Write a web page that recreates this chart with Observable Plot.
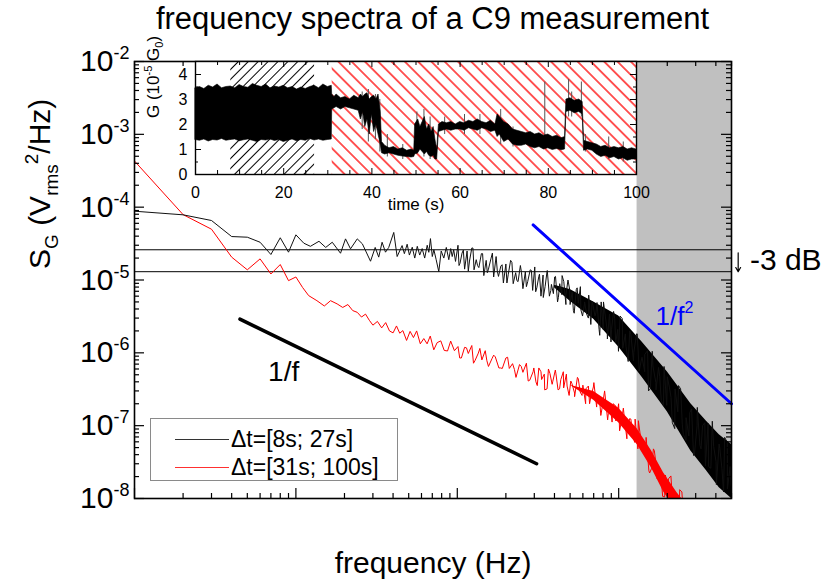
<!DOCTYPE html>
<html>
<head>
<meta charset="utf-8">
<script src="https://cdn.jsdelivr.net/npm/d3@7"></script>
<script src="https://cdn.jsdelivr.net/npm/@observablehq/plot@0.6"></script>
<style>
  body { margin: 0; background: #fff; }
  #wrap { position: relative; width: 826px; height: 588px; overflow: hidden; font-family: "Liberation Sans", Arial, Helvetica, sans-serif; color: #000; }
  #title { position: absolute; left: 134px; width: 597px; top: 0; height: 38px; line-height: 38px; text-align: center; font-size: 31px; white-space: nowrap; }
  #main { position: absolute; left: 0; top: 40px; }
  #inset { position: absolute; left: 140px; top: 56px; }
  #legend { position: absolute; left: 150px; top: 418px; width: 248px; height: 63px; box-sizing: border-box; border: 1px solid #8a8a8a; background: #fff; }
  #legend .sw { position: absolute; left: 24px; width: 54px; height: 0; }
  #legend .lt { position: absolute; left: 80px; font-size: 23px; line-height: 28px; height: 28px; white-space: nowrap; }
</style>
</head>
<body>
<div id="wrap">
  <div id="title">frequency spectra of a C9 measurement</div>
  <div id="main"></div>
  <div id="inset"></div>
  <div id="legend"></div>
</div>
<script>
// ---------------- data ----------------
const xDomain = [1, 5000];
const yDomain = [1e-8, 1e-2];
const xMajor = [1, 10, 100, 1000];
const xTickLabels = ["1", "10", "100", "1000"];
const yMajor = [1e-8, 1e-7, 1e-6, 1e-5, 1e-4, 1e-3, 1e-2];
const yTickExp = ["-8", "-7", "-6", "-5", "-4", "-3", "-2"];

// spectrum, window dt = [8s; 27s] (black)
const blackFreq = [1,2,3,4,5,6,7,8,9,10,11.2,12.3,13.9,15.3,16.8,18.9,20.3,21.8,24,25.8,29,31,32.6,34.2,35.9,37.6,40.4,42.4,45.5,47,48.9,50.5,52.6,54.5,56.5,58.5,60.6,62.8,65.1,66.6,68.2,70,71.6,74,76.8,79.5,82.5,85.5,88.6,91,93,95,97.5,
  101,104,107,111,115,119,123,127,131,136,141,146,151,156,162,168,174,180,186,193,200,207,214,222,230,238,246,255,264,273,283,293,
  302,311,320,330,340,350,361,372,383,394,406,418,431,444,457,471,485,500,515,530,546,562,579,597,615,633,652,672,692,713,734,756,779,802,826,851,877,903,930,958,987,
  1020,1060,1100,1145,1190,1240,1290,1340,1395,1450,1510,1570,1630,1700,1765,1835,1910,1985,2065,2150,2235,2325,2420,2515,2615,2720,2830,2945,3060,3185,3310,3445,3580,3725,3875,4030,4190,4360,4535,4715,4905,5000];
const blackS = [8.8e-5,7.85e-5,6.56e-5,3.95e-5,3.87e-5,3.3e-5,2.24e-5,3.8e-5,2.41e-5,4.17e-5,3.2e-5,2.9e-5,3.4e-5,2.8e-5,3.3e-5,2.33e-5,3.67e-5,2.68e-5,3.67e-5,3.14e-5,1.81e-5,2.8e-5,2.06e-5,3.3e-5,2.41e-5,2.8e-5,4.5e-5,2.1e-5,2.97e-5,2.3e-5,3.1e-5,2.2e-5,2.82e-5,2.0e-5,2.9e-5,2.2e-5,2.7e-5,2.0e-5,3.0e-5,2.4e-5,3.7e-5,2.1e-5,2.6e-5,1.9e-5,1.3e-5,2.5e-5,2.0e-5,2.8e-5,1.9e-5,2.7e-5,2.1e-5,2.6e-5,1.8e-5,
  3.0e-5,1.7e-5,2.34e-5,1.41e-5,2.5e-5,1.82e-5,2.75e-5,1.38e-5,1.9e-5,1.48e-5,2.3e-5,1.15e-5,1.86e-5,1.41e-5,2.0e-5,1.1e-5,2.1e-5,1.12e-5,1.55e-5,9.1e-6,1.66e-5,1.2e-5,1.86e-5,8.9e-6,1.26e-5,9.5e-6,1.58e-5,7.6e-6,1.29e-5,9.5e-6,1.38e-5,7.2e-6,
  1.51e-5,7.8e-6,1.12e-5,6.0e-6,1.17e-5,8.1e-6,1.35e-5,6.0e-6,8.7e-6,6.5e-6,1.12e-5,5.0e-6,8.9e-6,6.3e-6,9.5e-6,4.6e-6,1.0e-5,4.6e-6,6.8e-6,3.5e-6,7.4e-6,4.8e-6,8.1e-6,3.2e-6,4.8e-6,3.4e-6,6.2e-6,2.45e-6,4.6e-6,3.2e-6,4.9e-6,2.1e-6,5.0e-6,2.1e-6,3.2e-6,1.55e-6,3.4e-6,2.1e-6,3.7e-6,1.38e-6,2.1e-6,
  3.2e-6,1.15e-6,1.82e-6,7.6e-7,1.78e-6,1.0e-6,1.82e-6,5.6e-7,8.7e-7,5.5e-7,1.07e-6,3.2e-7,6.6e-7,3.9e-7,6.3e-7,2.2e-7,6.5e-7,1.9e-7,3.3e-7,1.1e-7,3.2e-7,1.55e-7,3.2e-7,7.6e-8,1.29e-7,7.2e-8,1.7e-7,4.0e-8,1.0e-7,5.4e-8,1.0e-7,2.8e-8,1.07e-7,2.6e-8,5.2e-8,1.55e-8,5.6e-8,2.6e-8,6.9e-8,1.35e-8,2.75e-8,1.55e-8];
// interleaved extra spectral points (black), dense part of the spectrum
const blackFreq2 = [102.5,109,117,125,133.5,143.5,153.5,165,177,189.5,203,218,234,250,268,288,
  306,323,341,360,380,401,423,446,471,497,524,553,583,615,649,685,723,763,805,849,896,945,997,1052,1110,1171,1235,1303,1375,1450,1530,1614,1703,1797,1896,2000,2110,2226,2348,2477,2613,2757,2909,3069,3238,3416,3604,3802,4011,4232,4465,4710,4969];
const blackS2 = [1.58e-5,2.57e-5,1.32e-5,2.75e-5,1.58e-5,2.3e-5,1.26e-5,2.34e-5,1.32e-5,1.62e-5,9.1e-6,1.74e-5,9.8e-6,1.26e-5,8.1e-6,1.35e-5,
  6.9e-6,1.2e-5,5.75e-6,1.32e-5,7.2e-6,1.1e-5,5.75e-6,1.15e-5,6.2e-6,7.4e-6,3.8e-6,7.8e-6,3.9e-6,5.0e-6,3.0e-6,5.1e-6,3.55e-6,1.74e-6,5.0e-6,2.04e-6,1.41e-6,2.95e-6,1.05e-6,2.95e-6,1.23e-6,2.0e-6,7.8e-7,1.82e-6,7.6e-7,9.5e-7,3.0e-7,1.05e-6,3.1e-7,4.7e-7,1.9e-7,4.7e-7,2.45e-7,9.1e-8,3.55e-7,1.05e-7,6.3e-8,1.51e-7,3.9e-8,1.78e-7,4.8e-8,1.1e-7,2.75e-8,1.15e-7,3.2e-8,4.9e-8,1.23e-8,5.9e-8,1.51e-8];
const blackBandFreq = [400, 500, 700, 1000, 1400, 2000, 2800, 3500, 4200, 5000];
const blackBandHi = [8.5e-6, 7.4e-6, 5.0e-6, 3.2e-6, 1.4e-6, 5.5e-7, 2.0e-7, 1.15e-7, 7.5e-8, 5.5e-8];
const blackBandLo = [7.8e-6, 5.1e-6, 2.9e-6, 1.2e-6, 4.6e-7, 1.55e-7, 4.5e-8, 2.4e-8, 1.4e-8, 1.0e-8];

// spectrum, window dt = [31s; 100s] (red)
const redFreq = [1,2,3,4,5,6,7,8,9,10,11,12,13.5,15,16.4,18,19.5,21,22.5,24,25.5,27,28.5,30,32,34,36,38,
  40,42,44,46,48.5,51,53.5,56,59,62,65,68,71.5,75,79,83,87,91,96,101,106,111,117,123,129,135,142,149,156,164,172,181,190,200,210,220,231,243,255,268,281,295,
  307,320,333,346,360,375,390,405,421,438,456,474,493,513,533,555,577,600,624,649,675,702,730,759,790,821,854,888,924,961,999,1039,1081,1124,1169,1216,1264,1315,1368,1422,1479,1538,1600,1664,1731,1800,1872,1947,2025,2106,2190,2278,2369,2464,2562,2665];
const redS = [4.3e-4,7.9e-5,4.98e-5,2.06e-5,1.38e-5,1.95e-5,1.21e-5,1.63e-5,9.8e-6,1.1e-5,7.9e-6,6.1e-6,5.2e-6,4.4e-6,5.2e-6,4.7e-6,4.2e-6,4.6e-6,3.8e-6,3.6e-6,3.1e-6,3.4e-6,2.8e-6,2.4e-6,2.7e-6,2.2e-6,2.6e-6,2.0e-6,
  1.88e-6,2.34e-6,1.86e-6,2.02e-6,1.48e-6,1.97e-6,1.62e-6,2.0e-6,1.33e-6,1.57e-6,1.33e-6,1.7e-6,1.1e-6,1.38e-6,1.46e-6,1.08e-6,1.06e-6,1.45e-6,1.07e-6,1.22e-6,8.5e-7,1.19e-6,9.8e-7,1.26e-6,7.9e-7,9.9e-7,8.0e-7,1.07e-6,6.5e-7,8.3e-7,8.8e-7,6.2e-7,6.1e-7,8.5e-7,6.1e-7,7.1e-7,4.6e-7,6.9e-7,5.4e-7,7.2e-7,4.2e-7,5.5e-7,
  4.0e-7,6.2e-7,4.3e-7,5.1e-7,3.2e-7,5.2e-7,4.0e-7,5.8e-7,3.1e-7,4.3e-7,3.3e-7,5.1e-7,2.6e-7,3.8e-7,2.8e-7,4.6e-7,2.9e-7,3.6e-7,2.0e-7,3.5e-7,2.6e-7,3.9e-7,1.8e-7,2.5e-7,1.77e-7,2.8e-7,1.2e-7,1.85e-7,2.0e-7,1.16e-7,2.0e-7,1.14e-7,1.36e-7,6.6e-8,1.25e-7,8.1e-8,1.23e-7,4.8e-8,6.8e-8,4.2e-8,6.9e-8,2.4e-8,2.6e-8,4.5e-8,2.2e-8,2.6e-8,1.07e-8,2.1e-8,1.29e-8,2.04e-8,7.1e-9,1.07e-8,6.5e-9,1.23e-8,3.9e-9,6.6e-9];
// interleaved extra spectral points (red)
const redFreq2 = [103.5,114,126,138,152.5,168,185.5,205,226,249,275,298,
  313,330,348,367,387,408,430,454,479,505,533,562,593,626,660,697,735,775,818,863,910,960,1013,1069,1128,1190,1255,1324,1397,1474,1555,1641,1731,1826,1927,2033,2145,2263,2387,2519,2657];
const redS2 = [8.5e-7,1.17e-6,7.2e-7,1.15e-6,7.8e-7,9.3e-7,6.2e-7,8.7e-7,5.9e-7,6.5e-7,4.1e-7,6.2e-7,
  3.55e-7,5.5e-7,3.1e-7,6.0e-7,3.7e-7,5.25e-7,3.2e-7,5.5e-7,3.5e-7,4.1e-7,2.5e-7,4.4e-7,2.6e-7,3.2e-7,2.0e-7,3.4e-7,2.4e-7,1.38e-7,3.0e-7,1.48e-7,1.12e-7,1.86e-7,8.5e-8,1.74e-7,8.9e-8,1.23e-7,5.9e-8,1.17e-7,4.9e-8,5.75e-8,2.24e-8,4.8e-8,1.86e-8,2.2e-8,1.05e-8,1.86e-8,1.12e-8,5.2e-9,1.32e-8,5.6e-9,3.8e-9];
const redBandFreq = [500, 700, 1000, 1300, 1600, 1900, 2300, 2600];
const redBandHi = [3.6e-7, 2.95e-7, 1.74e-7, 9.1e-8, 4.5e-8, 2.24e-8, 1.2e-8, 8.5e-9];
const redBandLo = [3.6e-7, 2.24e-7, 1.1e-7, 5.5e-8, 2.6e-8, 1.23e-8, 6.6e-9, 4.6e-9];

// guide lines
const invFFreq = [4.5, 310];
const invFS = [2.9e-6, 3.0e-8];
const invF2Freq = [295, 5000];
const invF2S = [5.7e-5, 2.0e-7];
const minus3dBLevels = [2.6e-5, 1.3e-5];
const shadedFreq = [1300, 5000];

// legend
const legendLabels = ["\u0394t=[8s; 27s]", "\u0394t=[31s; 100s]"];

// inset: conductance trace G(t) envelope (10^-5 G0)
const insetXDomain = [0, 100];
const insetYDomain = [0, 4.52];
const insetXTicks = [0, 20, 40, 60, 80, 100];
const insetYTicks = [0, 1, 2, 3, 4];
const hatchBlackSpan = [8, 27];
const hatchRedSpan = [31, 100];
const insetT = [0,1,2,3,4,5,6,7,8,9,10,11,12,13,14,15,16,17,18,19,20,21,22,23,24,25,26,27,28,29,30,30.9,
  31,31.5,32,33,34,35,36,37,37.5,38,38.5,39,39.5,40,40.5,41,41.5,42,42.3,43,44,45,46,47,48,49,49.6,49.8,50.5,51,51.5,52,52.5,53,53.5,54,54.4,54.8,55.2,56,57,58,59,60,61,62,63,64,65,66,67,68,68.5,69,70,71,72,73,74,75,76,77,78,79,80,81,82,83,83.8,84.1,85,86,87,87.8,88.1,89,90,91,92,93,94,95,96,97,98,99,100];
const insetHi = [3.45,3.5,3.42,3.55,3.48,3.6,3.45,3.5,3.52,3.45,3.58,3.5,3.47,3.62,3.55,3.5,3.6,3.45,3.52,3.48,3.55,3.45,3.5,3.4,3.48,3.42,3.5,3.55,3.45,3.6,3.5,3.55,
  3.2,3.1,3.2,3.05,3.1,3.0,3.15,3.05,3.2,3.1,3.2,3.25,3.0,3.1,3.15,3.0,3.2,2.5,1.3,1.15,1.05,1.1,1.0,1.05,0.95,1.0,0.95,2.0,2.2,1.9,2.1,2.3,1.8,2.0,1.7,1.9,1.4,1.0,2.0,2.1,2.05,2.1,2.0,2.1,2.05,2.15,2.1,2.2,2.1,2.05,2.15,2.0,2.4,2.3,2.1,2.0,1.8,1.75,1.7,1.65,1.7,1.6,1.65,1.55,1.6,1.5,1.55,1.45,1.5,3.0,3.05,2.95,3.0,2.9,1.35,1.3,1.25,1.2,1.1,1.15,1.05,1.1,1.05,1.1,1.0,1.05,1.0];
const insetLo = [1.38,1.35,1.4,1.32,1.38,1.36,1.42,1.35,1.38,1.4,1.33,1.37,1.4,1.35,1.3,1.38,1.36,1.4,1.34,1.38,1.3,1.35,1.4,1.33,1.38,1.35,1.42,1.36,1.4,1.35,1.38,1.4,
  2.6,2.65,2.7,2.6,2.7,2.65,2.6,2.55,2.2,2.5,1.9,2.2,1.6,2.4,1.7,2.0,1.6,1.2,0.85,0.8,0.85,0.8,0.75,0.72,0.7,0.68,0.7,0.8,0.85,1.0,0.9,0.8,0.9,0.75,0.7,0.75,0.6,0.6,1.7,1.75,1.8,1.75,1.8,1.8,1.75,1.85,1.8,1.75,1.85,1.8,1.7,1.75,1.5,1.6,1.3,1.4,1.2,1.15,1.15,1.2,1.1,1.05,1.1,1.0,1.05,0.98,1.02,0.97,1.0,2.5,2.55,2.45,2.5,2.4,0.95,1.0,0.95,0.8,0.7,0.75,0.65,0.7,0.6,0.65,0.55,0.6,0.6];
const spikeT = [37.8, 39.2, 40.8, 41.8, 43.5, 47, 50.2, 51.8, 53.2, 56.5, 61, 64.5, 69.2, 72, 79.2, 84.6, 85.3, 87.5, 88.4, 93.7, 97];
const spikeLo = [1.8, 1.3, 1.4, 0.9, 0.7, 0.6, 0.8, 0.7, 0.6, 1.6, 1.6, 1.6, 1.2, 1.1, 1.1, 2.3, 2.3, 2.3, 0.9, 0.6, 0.5];
const spikeHi = [3.3, 3.4, 3.2, 3.0, 1.6, 1.2, 2.5, 2.6, 2.3, 2.3, 2.4, 2.4, 2.6, 1.9, 3.7, 3.8, 3.3, 3.7, 1.6, 1.5, 1.3];

// ---------------- build ----------------
const FONT = '"Liberation Sans", Arial, Helvetica, sans-serif';
const byF = (a, b) => a.f - b.f;
const blackRows = blackFreq.map((f, i) => ({f, s: blackS[i]}))
  .concat(blackFreq2.map((f, i) => ({f, s: blackS2[i]}))).sort(byF);
const redRows = redFreq.map((f, i) => ({f, s: redS[i]}))
  .concat(redFreq2.map((f, i) => ({f, s: redS2[i]}))).sort(byF);
const blackBand = blackBandFreq.map((f, i) => ({f, hi: blackBandHi[i], lo: blackBandLo[i]}));
const redBand = redBandFreq.map((f, i) => ({f, hi: redBandHi[i], lo: redBandLo[i]}));
const invFRows = invFFreq.map((f, i) => ({f, s: invFS[i]}));
const invF2Rows = invF2Freq.map((f, i) => ({f, s: invF2S[i]}));

const W = 826, H = 548, mL = 134, mR = 95, mT = 21, mB = 90;
const fw = W - mL - mR, fh = H - mT - mB;
const isDecade = v => Math.abs(Math.log10(v) - Math.round(Math.log10(v))) < 1e-9;
const xMinor = d3.scaleLog().domain(xDomain).ticks().filter(v => !isDecade(v));
const yMinor = d3.scaleLog().domain(yDomain).ticks().filter(v => !isDecade(v));
const tk = {stroke: "black", strokeWidth: 1.2};

const YLAB = "SG (Vrms2/Hz)";
const F2LAB = "1/f2";
const GLAB = "G (10-5 G0)";

const main = Plot.plot({
  width: W, height: H, marginLeft: mL, marginRight: mR, marginTop: mT, marginBottom: mB,
  x: {type: "log", domain: xDomain, axis: null},
  y: {type: "log", domain: yDomain, axis: null},
  style: {fontFamily: FONT, fontSize: "30px", background: "transparent", overflow: "visible", color: "black"},
  marks: [
    Plot.rect([shadedFreq], {x1: d => d[0], x2: d => d[1], y1: yDomain[0], y2: yDomain[1], fill: "#c0c0c0"}),
    Plot.ruleY(minus3dBLevels, {stroke: "black", strokeWidth: 1}),
    Plot.areaY(redBand, {x: "f", y1: "lo", y2: "hi", fill: "#ff0000", clip: true}),
    Plot.line(redRows, {x: "f", y: "s", stroke: "#ff0000", strokeWidth: 1, clip: true}),
    Plot.areaY(blackBand, {x: "f", y1: "lo", y2: "hi", fill: "#000", clip: true}),
    Plot.line(blackRows, {x: "f", y: "s", stroke: "#111", strokeWidth: 1, clip: true}),
    Plot.line(invFRows, {x: "f", y: "s", stroke: "black", strokeWidth: 3.5}),
    Plot.line(invF2Rows, {x: "f", y: "s", stroke: "#0000ff", strokeWidth: 3}),
    Plot.text(["1/f"], {x: 8.4, y: 5.4e-7, fontSize: 28, fill: "black"}),
    Plot.text([F2LAB], {x: 1690, y: 3.15e-6, textAnchor: "start", fontSize: 26, fill: "#0000ff"}),
    Plot.arrow([0], {x1: 5500, x2: 5500, y1: minus3dBLevels[0], y2: minus3dBLevels[1], stroke: "black", strokeWidth: 1.2, headLength: 6, insetStart: 3}),
    Plot.text(["-3 dB"], {x: 6500, y: 1.84e-5, textAnchor: "start", fontSize: 30}),
    // ticks (inward)
    Plot.tickY(yMinor, {...tk, insetRight: fw - 5}),
    Plot.tickY(yMajor, {...tk, insetRight: fw - 10}),
    Plot.tickY(yMinor, {...tk, insetLeft: fw - 5}),
    Plot.tickY(yMajor, {...tk, insetLeft: fw - 10}),
    Plot.tickX(xMinor, {...tk, insetTop: fh - 5}),
    Plot.tickX(xMajor, {...tk, insetTop: fh - 10}),
    Plot.tickX(xMinor, {...tk, insetBottom: fh - 5}),
    Plot.tickX(xMajor, {...tk, insetBottom: fh - 10}),
    Plot.frame({stroke: "black", strokeWidth: 1.6}),
    Plot.axisX(xMajor, {anchor: "bottom", tickSize: 0, tickPadding: 5, fontSize: 30, label: null, tickFormat: (d, i) => xTickLabels[i]}),
    Plot.axisY(yMajor, {anchor: "left", tickSize: 0, tickPadding: 5, fontSize: 30, label: null, tickFormat: () => "10"}),
    Plot.text(["frequency (Hz)"], {frameAnchor: "bottom", dy: 74, fontSize: 30}),
    Plot.text([YLAB], {frameAnchor: "left", dx: -94, dy: -11, rotate: -90, fontSize: 30})
  ]
});
document.getElementById("main").appendChild(main);

// rich text: superscripts / subscripts
function richText(svg, plain, html) {
  d3.select(svg).selectAll("text").filter(function() { return this.textContent === plain; })
    .each(function() { this.innerHTML = html; });
}
const ms = d3.select(main);
ms.selectAll('g[aria-label="y-axis tick label"] text').each(function(d, i) {
  this.innerHTML = `10<tspan dy="-12" font-size="18">${yTickExp[i]}</tspan>`;
});
richText(main, YLAB, 'S<tspan dy="8" font-size="19">G</tspan><tspan dy="-8"> (V</tspan><tspan dy="8" font-size="19">rms</tspan><tspan dy="-20" font-size="19">2</tspan><tspan dy="12">/Hz)</tspan>');
richText(main, F2LAB, '1/f<tspan dy="-12" font-size="16">2</tspan>');

// ---------------- inset ----------------
const iW = 501, iH = 163, imL = 55, imR = 5, imT = 5, imB = 45;
const ifw = iW - imL - imR, ifh = iH - imT - imB;
const insetRows = insetT.map((t, i) => ({t, hi: insetHi[i], lo: insetLo[i]}));
const spikeRows = spikeT.map((t, i) => ({t, lo: spikeLo[i], hi: spikeHi[i]}));
const ixAll = d3.ticks(insetXDomain[0], insetXDomain[1], 20);
const ixMajor = ixAll.filter(v => v % 20 === 0);
const ixMinor = ixAll.filter(v => v % 20 !== 0);
const iyAll = d3.ticks(0, 4, 8);
const iyMajor = iyAll.filter(v => Number.isInteger(v));
const iyMinor = iyAll.filter(v => !Number.isInteger(v));
const itk = {stroke: "black", strokeWidth: 1};

const inset = Plot.plot({
  width: iW, height: iH, marginLeft: imL, marginRight: imR, marginTop: imT, marginBottom: imB,
  x: {domain: insetXDomain, axis: null},
  y: {domain: insetYDomain, axis: null},
  style: {fontFamily: FONT, fontSize: "16px", background: "transparent", overflow: "visible", color: "black"},
  marks: [
    Plot.frame({fill: "white"}),
    Plot.rect([hatchBlackSpan], {x1: d => d[0], x2: d => d[1], y1: insetYDomain[0], y2: insetYDomain[1], fill: "url(#hatchBlack)"}),
    Plot.rect([hatchRedSpan], {x1: d => d[0], x2: d => d[1], y1: insetYDomain[0], y2: insetYDomain[1], fill: "url(#hatchRed)"}),
    Plot.ruleX(spikeRows, {x: "t", y1: "lo", y2: "hi", stroke: "#555", strokeWidth: 1}),
    Plot.areaY(insetRows, {x: "t", y1: "lo", y2: "hi", fill: "black", stroke: "black", strokeWidth: 0.6}),
    Plot.tickY(iyMinor, {...itk, insetRight: ifw - 3}),
    Plot.tickY(iyMajor, {...itk, insetRight: ifw - 6}),
    Plot.tickY(iyMinor, {...itk, insetLeft: ifw - 3}),
    Plot.tickY(iyMajor, {...itk, insetLeft: ifw - 6}),
    Plot.tickX(ixMinor, {...itk, insetTop: ifh - 4}),
    Plot.tickX(ixMajor, {...itk, insetTop: ifh - 6}),
    Plot.tickX(ixMinor, {...itk, insetBottom: ifh - 4}),
    Plot.tickX(ixMajor, {...itk, insetBottom: ifh - 6}),
    Plot.frame({stroke: "black", strokeWidth: 1.4}),
    Plot.axisX(insetXTicks, {anchor: "bottom", tickSize: 0, tickPadding: 12, fontSize: 16, label: null, tickFormat: d => String(d)}),
    Plot.axisY(insetYTicks, {anchor: "left", tickSize: 0, tickPadding: 8, fontSize: 16, label: null, tickFormat: d => String(d)}),
    Plot.text(["time (s)"], {frameAnchor: "bottom", dy: 35, fontSize: 17}),
    Plot.text([GLAB], {frameAnchor: "left", dx: -42, rotate: -90, fontSize: 17})
  ]
});
document.getElementById("inset").appendChild(inset);

const is = d3.select(inset);
const defs = is.insert("defs", ":first-child");
const pb = defs.append("pattern").attr("id", "hatchBlack").attr("patternUnits", "userSpaceOnUse")
  .attr("width", 7).attr("height", 7).attr("patternTransform", "rotate(45)");
pb.append("line").attr("x1", 3.5).attr("y1", 0).attr("x2", 3.5).attr("y2", 7).attr("stroke", "black").attr("stroke-width", 1);
const pr = defs.append("pattern").attr("id", "hatchRed").attr("patternUnits", "userSpaceOnUse")
  .attr("width", 9.4).attr("height", 9.4).attr("patternTransform", "rotate(-45)");
pr.append("line").attr("x1", 4.7).attr("y1", 0).attr("x2", 4.7).attr("y2", 9.4).attr("stroke", "#ff0000").attr("stroke-width", 1.3);
richText(inset, GLAB, 'G (10<tspan dy="-7" font-size="11">-5</tspan><tspan dy="7"> G</tspan><tspan dy="4" font-size="11">0</tspan><tspan dy="-4">)</tspan>');

// ---------------- legend ----------------
const legendColors = ["#333", "#ff3030"];
const lg = d3.select("#legend");
legendLabels.forEach((lab, i) => {
  const cy = 20 + i * 28;
  lg.append("div").attr("class", "sw").style("top", (cy) + "px").style("border-top", `1px solid ${legendColors[i]}`);
  lg.append("div").attr("class", "lt").style("top", (cy - 14) + "px").text(lab);
});
</script>
</body>
</html>
